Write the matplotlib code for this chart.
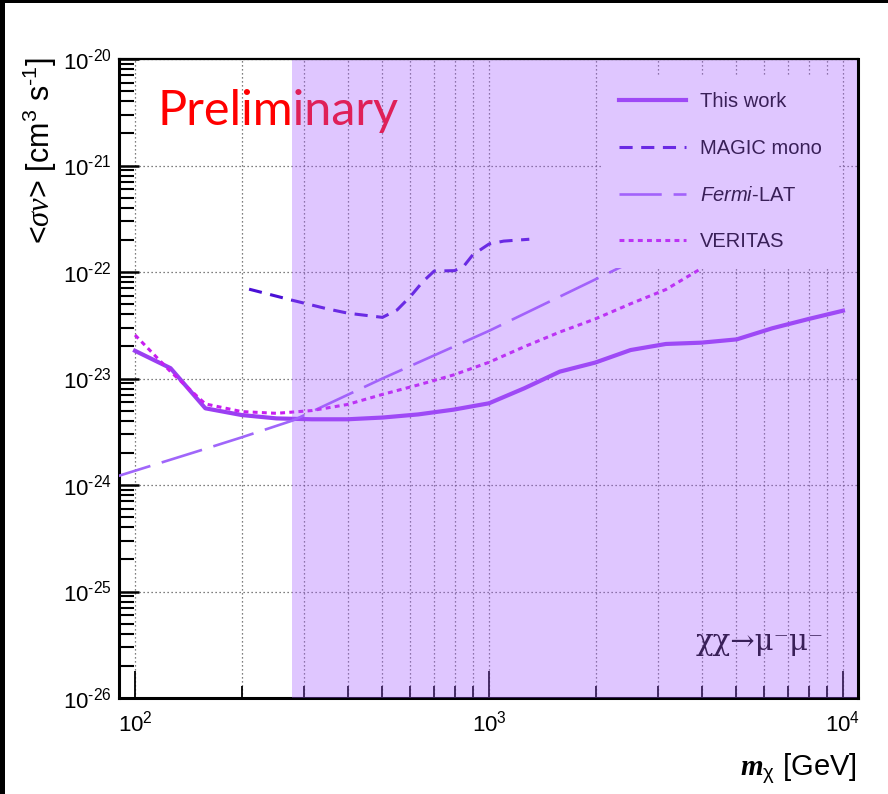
import numpy as np
import matplotlib
matplotlib.use('Agg')
import matplotlib.pyplot as plt
from matplotlib.ticker import LogLocator, FuncFormatter, NullFormatter
from matplotlib.patches import Rectangle
import matplotlib.transforms as mtransforms

plt.rcParams['font.family'] = ['Liberation Sans', 'DejaVu Sans']
plt.rcParams['mathtext.fontset'] = 'custom'
plt.rcParams['mathtext.rm'] = 'Liberation Sans'
plt.rcParams['mathtext.it'] = 'Liberation Sans:italic'
plt.rcParams['mathtext.sf'] = 'Liberation Serif:italic'
plt.rcParams['mathtext.bf'] = 'Liberation Serif:bold:italic'

HY = '\u2010'  # short hyphen used for superscript minus

# ---------------- data ----------------
this_mass = [100, 126, 158, 200, 251, 316, 398, 501, 631, 794, 1000, 1259, 1585,
             1995, 2512, 3162, 3981, 5012, 6310, 7943, 10000]
this_sv = [1.82e-23, 1.25e-23, 5.25e-24, 4.54e-24, 4.22e-24, 4.14e-24, 4.14e-24,
           4.3e-24, 4.6e-24, 5.1e-24, 5.85e-24, 8.1e-24, 1.16e-23, 1.41e-23,
           1.85e-23, 2.11e-23, 2.17e-23, 2.33e-23, 2.96e-23, 3.6e-23, 4.33e-23]

magic_mass = [210, 280, 350, 400, 500, 550, 600, 650, 700, 800, 850, 900, 1000, 1100, 1300]
magic_sv = [6.9e-23, 5.4e-23, 4.5e-23, 4.1e-23, 3.75e-23, 4.4e-23, 5.9e-23, 8.1e-23,
            1.02e-22, 1.03e-22, 1.14e-22, 1.45e-22, 1.83e-22, 1.95e-22, 2.03e-22]

fermi_mass = [85, 150, 200, 280, 500, 1000, 2420]
fermi_sv = [1.15e-24, 2.07e-24, 2.8e-24, 4.05e-24, 1.0e-23, 2.8e-23, 1.16e-22]

veritas_mass = [100, 126, 158, 200, 251, 316, 398, 501, 631, 794, 1000, 1259, 1585,
                1995, 2512, 3162, 3981]
veritas_sv = [2.56e-23, 1.16e-23, 5.77e-24, 4.89e-24, 4.71e-24, 5.0e-24, 5.7e-24,
              7.1e-24, 8.7e-24, 1.08e-23, 1.42e-23, 1.99e-23, 2.73e-23, 3.62e-23,
              5.03e-23, 6.85e-23, 1.08e-22]

series_labels = ['This work', 'MAGIC mono', r'$\mathit{Fermi}$-LAT', 'VERITAS']
channel_label = '\u03c7\u03c7\u2192\u03bc\u207b\u03bc\u207b'
shade_from = 278  # GeV, start of shaded band
x_range = (90.1, 11030)
y_range = (1e-26, 1e-20)

# ---------------- figure ----------------
W, H = 888, 794
fig = plt.figure(figsize=(W / 100, H / 100), dpi=100)
fig.patch.set_facecolor('white')
L, R, T, B = 119, 858, 59, 698
ax = fig.add_axes([L / W, 1 - B / H, (R - L) / W, (B - T) / H])
ax.set_xscale('log')
ax.set_yscale('log')
ax.set_xlim(*x_range)
ax.set_ylim(*y_range)

c_this = '#9b3ff2'
c_magic = '#4a10d6'
c_fermi = '#a066fa'
c_ver = '#c81ef0'

l1, = ax.plot(this_mass, this_sv, color=c_this, lw=3.0, solid_joinstyle='round', zorder=4)
l2, = ax.plot(magic_mass, magic_sv, color=c_magic, lw=2.2, dashes=(4.3, 2.8), zorder=4)
l3, = ax.plot(fermi_mass, fermi_sv, color=c_fermi, lw=1.9, dashes=(16, 4.5), zorder=4)
l4, = ax.plot(veritas_mass, veritas_sv, color=c_ver, lw=2.2, dashes=(1.6, 1.4), zorder=4)


def _fmt(v, p):
    e = int(round(np.log10(v)))
    s = (HY + '%d' % -e) if e < 0 else '%d' % e
    return r'$\mathregular{10^{' + s + '}}$'


fmt = FuncFormatter(_fmt)
ax.xaxis.set_major_locator(LogLocator(base=10, numticks=20))
ax.xaxis.set_minor_locator(LogLocator(base=10, subs=np.arange(2, 10), numticks=100))
ax.yaxis.set_major_locator(LogLocator(base=10, numticks=20))
ax.yaxis.set_minor_locator(LogLocator(base=10, subs=np.arange(2, 10), numticks=100))
ax.xaxis.set_major_formatter(fmt)
ax.yaxis.set_major_formatter(fmt)
ax.xaxis.set_minor_formatter(NullFormatter())
ax.yaxis.set_minor_formatter(NullFormatter())

ax.tick_params(axis='both', which='both', direction='in', top=False, right=False,
               colors='black', labelsize=16)
ax.tick_params(axis='y', which='major', length=14.5, width=1.8, pad=5)
ax.tick_params(axis='y', which='minor', length=10.5, width=1.5)
ax.tick_params(axis='x', which='major', length=19.5, width=1.3, pad=9)
ax.tick_params(axis='x', which='minor', length=8.5, width=1.3)

ax.grid(True, axis='x', which='both', color='#555555', lw=0.9, ls=(0, (1, 2.2)), zorder=1)
ax.grid(True, axis='y', which='major', color='#555555', lw=0.9, ls=(0, (1, 2.2)), zorder=1)
ax.set_axisbelow(True)

for s in ['left', 'bottom', 'right']:
    ax.spines[s].set_linewidth(2.2)
ax.spines['top'].set_linewidth(1.6)
ax.spines['top'].set_zorder(8)
ax.spines['right'].set_zorder(8)

# Preliminary
ax.text((157 - L) / (R - L), (B - 125) / (B - T), 'Preliminary', transform=ax.transAxes,
        color='red', fontsize=35, family=['Lato', 'DejaVu Sans'], va='baseline',
        ha='left', zorder=3)

# decay channel
ax.text((824 - L) / (R - L), (B - 650) / (B - T), channel_label,
        transform=ax.transAxes, color='black', fontsize=21,
        family=['DejaVu Serif', 'DejaVu Sans'], ha='right',
        va='baseline', zorder=3)

# legend
leg = ax.legend([l1, l2, l3, l4], series_labels, loc='upper left',
                bbox_to_anchor=((603 - L) / (R - L), (B - 76) / (B - T)),
                borderaxespad=0, frameon=True, facecolor='white', edgecolor='none',
                framealpha=1, fancybox=False, fontsize=14.5, handlelength=3.3,
                handletextpad=0.7, labelspacing=1.38, borderpad=0.8)
leg.set_zorder(5)

# translucent band
trans = mtransforms.blended_transform_factory(ax.transData, ax.transAxes)
band = Rectangle((shade_from, 0), x_range[1] - shade_from, 1, transform=trans,
                 facecolor='#a65cff', edgecolor='none', alpha=0.35, zorder=7,
                 clip_on=False)
ax.add_patch(band)

# axis titles
fig.text(40 / W, 1 - 57 / H,
         r'<$\mathsf{\sigma\nu}$> [cm$^{3}$ s$^{' + HY + '1}$]',
         rotation=90, ha='center', va='top', fontsize=22)
fig.text((R - 1) / W, 1 - 775 / H, r'$\mathbf{m}_{\mathregular{\chi}}$ [GeV]',
         ha='right', va='baseline', fontsize=21)

# black frame edges
fig.patches.append(Rectangle((0, 1 - 3 / H), 1, 3 / H, transform=fig.transFigure,
                             facecolor='black', edgecolor='none'))
fig.patches.append(Rectangle((0, 0), 5 / W, 1, transform=fig.transFigure,
                             facecolor='black', edgecolor='none'))

fig.savefig('out.png', dpi=100)
